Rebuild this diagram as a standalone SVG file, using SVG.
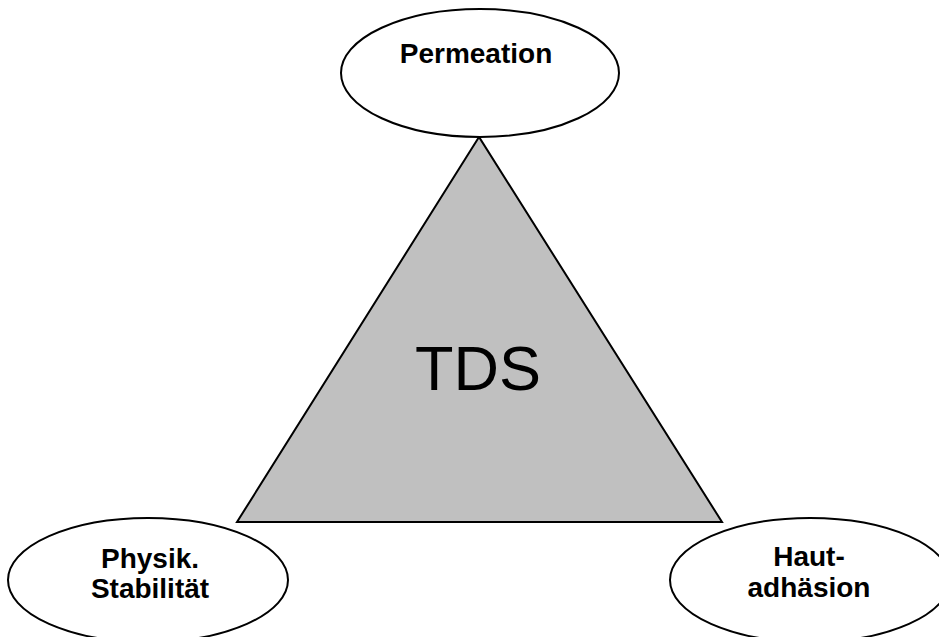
<svg xmlns="http://www.w3.org/2000/svg" width="939" height="637" viewBox="0 0 939 637">
<style>
.node ellipse{fill:#fff;stroke:#000;stroke-width:2}
.lbl{font-family:"Liberation Sans",Arial,sans-serif;font-weight:bold;font-size:28px;text-anchor:middle;fill:#000}
.big{font-family:"Liberation Sans",Arial,sans-serif;font-size:63px;text-anchor:middle;fill:#000}
</style>
<rect width="939" height="637" fill="#fff"/>
<g id="connectors">
<polygon id="tds" points="479,137 237,522 722,522" fill="#c0c0c0" stroke="#000" stroke-width="2"/>
</g>
<text class="big" x="478" y="390">TDS</text>
<g id="permeation" class="node">
<ellipse cx="480" cy="73" rx="139" ry="64"/>
<text class="lbl" x="476" y="63">Permeation</text>
</g>
<g id="stabilitaet" class="node">
<ellipse cx="148" cy="580" rx="140" ry="62"/>
<text class="lbl" x="150" y="568">Physik.</text>
<text class="lbl" x="150" y="598">Stabilität</text>
</g>
<g id="hautadhaesion" class="node">
<ellipse cx="810" cy="580" rx="140" ry="62"/>
<text class="lbl" x="809" y="566">Haut-</text>
<text class="lbl" x="809" y="597">adhäsion</text>
</g>
</svg>
